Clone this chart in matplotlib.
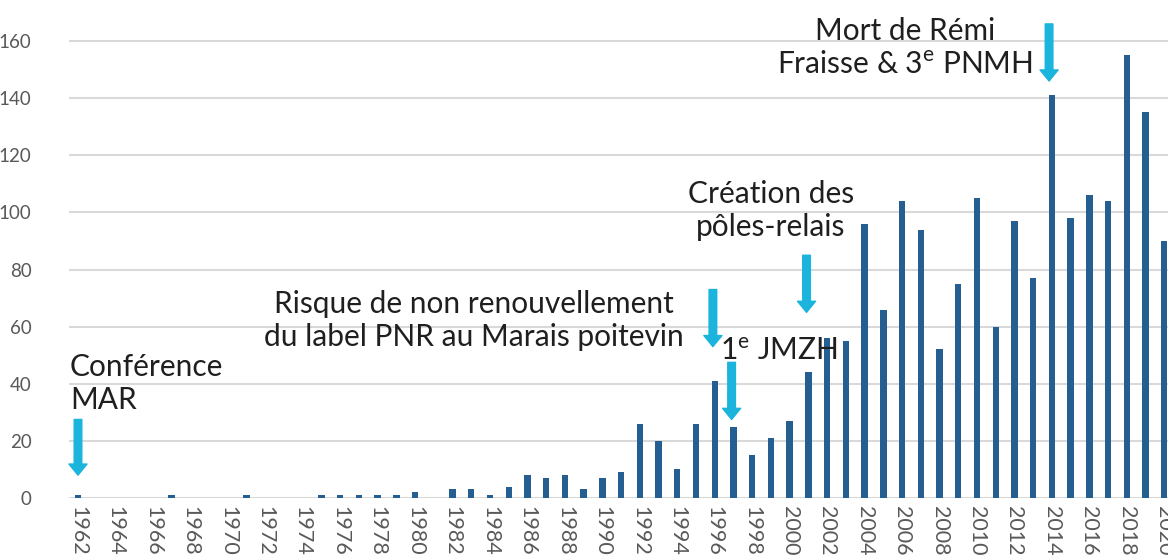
import numpy as np
import matplotlib
matplotlib.use('Agg')
import matplotlib.pyplot as plt

plt.rcParams['font.family'] = ['Lato', 'DejaVu Sans']
plt.rcParams['mathtext.fontset'] = 'custom'
plt.rcParams['mathtext.rm'] = 'Lato'
plt.rcParams['mathtext.it'] = 'Lato'

years = np.arange(1962, 2021)
counts = [1, 0, 0, 0, 0, 1, 0, 0, 0, 1,
          0, 0, 0, 1, 1, 1, 1, 1, 2, 0,
          3, 3, 1, 4, 8, 7, 8, 3, 7, 9,
          26, 20, 10, 26, 41, 25, 15, 21, 27, 44,
          56, 55, 96, 66, 104, 94, 52, 75, 105, 60,
          97, 77, 141, 98, 106, 104, 155, 135, 90]

# events: (label, text x, text y, ha, arrow x, arrow top, arrow tip)
events = [
    ('Conférence\nMAR', 1961.58, 50.8, 'left', 1962, 27.5, 8),
    ('Risque de non renouvellement\ndu label PNR au Marais poitevin', 1983.15, 72.8, 'center', 1995.9, 73, 53),
    ('1$^{\\mathrm{e}}$ JMZH', 1999.4, 56.4, 'center', 1996.9, 47.5, 27.5),
    ('Création des\npôles-relais', 1999.0, 111.3, 'center', 2000.9, 85, 65),
    ('Mort de Rémi\nFraisse & 3$^{\\mathrm{e}}$ PNMH', 2006.15, 168.4, 'center', 2013.85, 166, 146),
]

bar_color = '#255E91'
arrow_color = '#1AB4DC'
grid_color = '#D9D9D9'
tick_color = '#595959'

fig = plt.figure(figsize=(11.68, 5.59), dpi=100)
ax = fig.add_axes([69 / 1168, 61 / 559, 1 - 69 / 1168, 485.5 / 559])

ax.bar(years, counts, width=0.34, color=bar_color, zorder=3)

ax.set_xlim(1961.52, 2020.2)
ax.set_ylim(0, 170)
ax.set_yticks(np.arange(0, 161, 20))
ax.set_xticks(years[::2])
ax.set_xticklabels([str(y) for y in years[::2]], rotation=270, va='top', ha='center')
ax.tick_params(axis='both', length=0, colors=tick_color)
ax.tick_params(axis='y', pad=27, labelsize=13.5)
ax.tick_params(axis='x', pad=6, labelsize=15.5)
for lbl in ax.get_yticklabels():
    lbl.set_horizontalalignment('right')

ax.grid(axis='y', color=grid_color, linewidth=1.5, zorder=0)
for s in ax.spines.values():
    s.set_visible(False)

for label, tx, ty, ha, axx, ytop, ytip in events:
    ax.text(tx, ty, label, ha=ha, va='top', fontsize=21.5,
            color='#1f1f1f', linespacing=1.2, zorder=5)
    ax.annotate('', xy=(axx, ytip), xytext=(axx, ytop),
                arrowprops=dict(arrowstyle='simple,head_width=1.3,head_length=0.8,tail_width=0.55',
                                color=arrow_color, shrinkA=0, shrinkB=0),
                zorder=6)

fig.savefig('out.png', dpi=100)
